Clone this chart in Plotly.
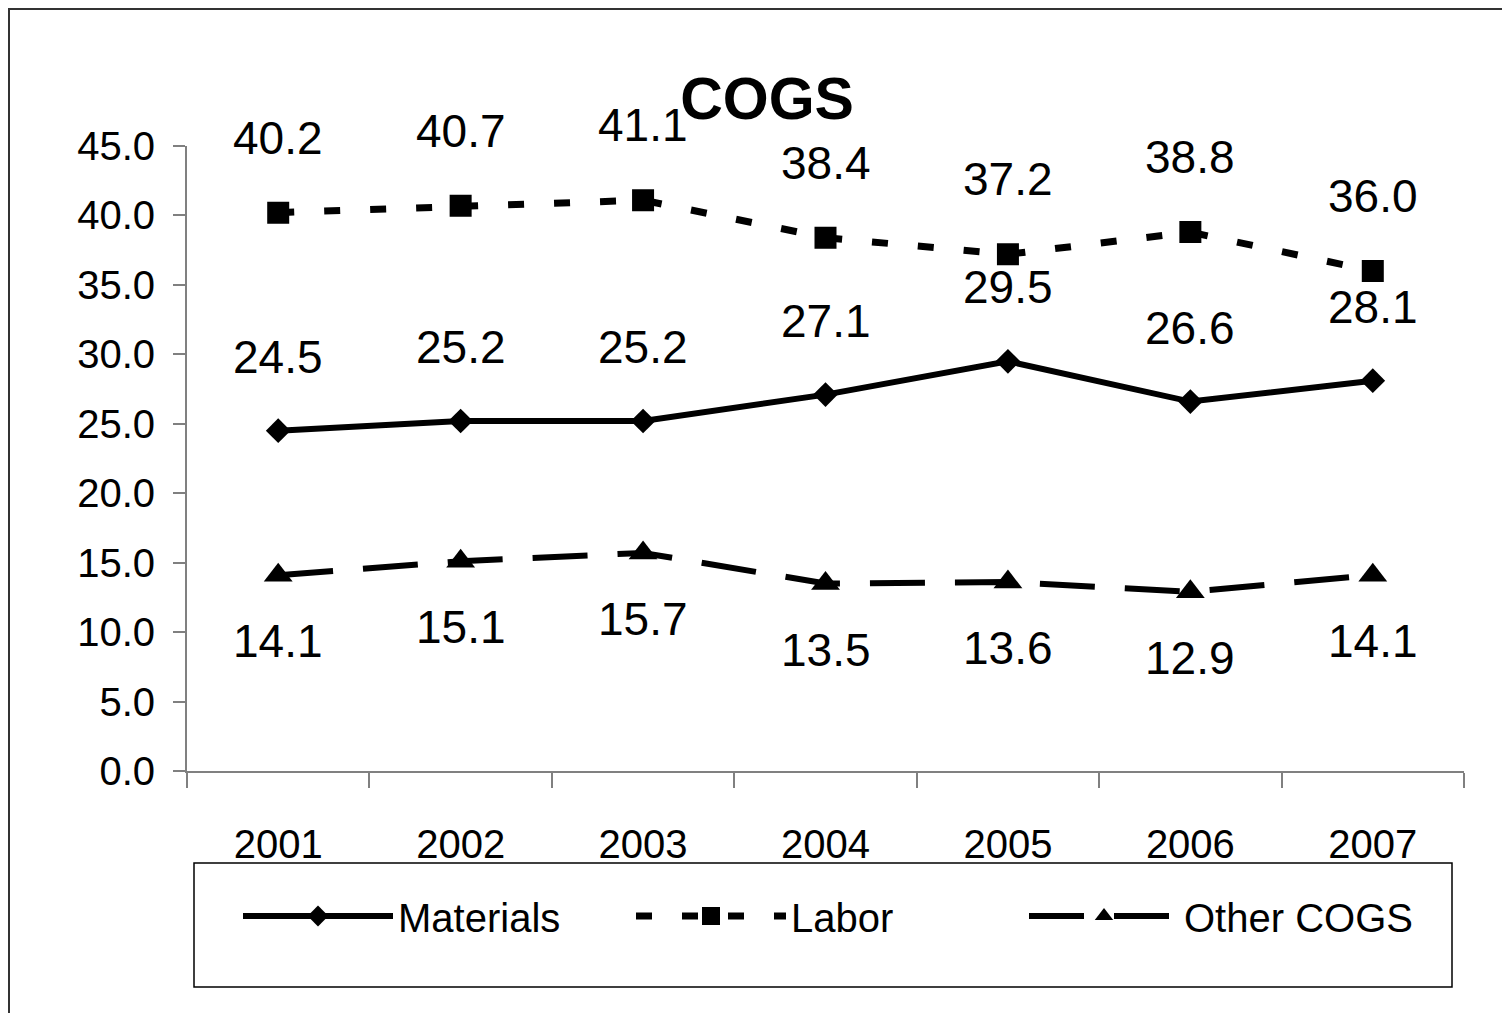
import plotly.graph_objects as go

years = ["2001", "2002", "2003", "2004", "2005", "2006", "2007"]
materials = [24.5, 25.2, 25.2, 27.1, 29.5, 26.6, 28.1]
labor = [40.2, 40.7, 41.1, 38.4, 37.2, 38.8, 36.0]
other_cogs = [14.1, 15.1, 15.7, 13.5, 13.6, 12.9, 14.1]

# page has an 8px body margin; figure is sized to fill the window from there
OFF = 8
W, H = 1510 - OFF, 1013 - OFF
L, R, T, B = 187 - OFF, 46, 146 - OFF, 242
PW, PH = W - L - R, H - T - B


def px_x(p):
    """page x pixel -> paper fraction"""
    return (p - OFF - L) / PW


def px_y(p):
    """page y pixel -> paper fraction"""
    return (H - B - (p - OFF)) / PH


FONT = "Liberation Sans, Arial, sans-serif"

fig = go.Figure()
fig.add_trace(go.Scatter(
    x=years, y=materials, name="Materials", mode="lines+markers",
    line=dict(color="black", width=6),
    marker=dict(symbol="diamond", size=19, color="black"),
))
fig.add_trace(go.Scatter(
    x=years, y=labor, name="Labor", mode="lines+markers",
    line=dict(color="black", width=7, dash="16px,30px"),
    marker=dict(symbol="square", size=20, color="black",
                line=dict(color="black", width=2)),
))
fig.add_trace(go.Scatter(
    x=years, y=other_cogs, name="Other COGS", mode="lines+markers",
    line=dict(color="black", width=6, dash="55px,30px"),
    marker=dict(symbol="triangle-up", size=25, color="black"),
))

annotations = []
for series, shift in ((materials, 74), (labor, 75), (other_cogs, -66)):
    for i, v in enumerate(series):
        annotations.append(dict(
            x=i, y=v, xref="x", yref="y", text=f"{v:.1f}", showarrow=False,
            yshift=shift, yanchor="middle", xanchor="center",
            font=dict(family=FONT, size=46, color="black"),
        ))

shapes = [
    # outer chart border
    dict(type="rect", xref="paper", yref="paper",
         x0=px_x(9), x1=px_x(1530), y0=px_y(1030), y1=px_y(9),
         line=dict(color="#333333", width=2), fillcolor="rgba(0,0,0,0)", layer="below"),
    # legend box
    dict(type="rect", xref="paper", yref="paper",
         x0=px_x(194), x1=px_x(1452), y0=px_y(987), y1=px_y(863),
         line=dict(color="black", width=1.5), fillcolor="rgba(0,0,0,0)", layer="below"),
]

fig.update_layout(
    width=W, height=H,
    margin=dict(l=L, r=R, t=T, b=B, autoexpand=False),
    paper_bgcolor="white", plot_bgcolor="white",
    font=dict(family=FONT, size=40, color="black"),
    title=dict(text="<b>COGS</b>", x=px_x(767), xref="paper", xanchor="center",
               y=1 - (98 - OFF) / H, yref="container", yanchor="middle",
               font=dict(family=FONT, size=59, color="black")),
    showlegend=True,
    legend=dict(orientation="h", x=px_x(238), xanchor="left",
                y=px_y(916), yanchor="middle", bgcolor="rgba(0,0,0,0)",
                borderwidth=0, font=dict(family=FONT, size=40, color="black"),
                entrywidth=228, entrywidthmode="pixels", itemwidth=150),
    annotations=annotations,
    shapes=shapes,
)

fig.update_xaxes(
    type="category", tickson="boundaries", ticks="outside", ticklen=15,
    tickcolor="#808080", tickwidth=2, showline=True, linecolor="#808080",
    linewidth=2, showgrid=False, zeroline=False, ticklabelstandoff=37,
    tickfont=dict(family=FONT, size=40, color="black"),
    range=[-0.5, 6.5],
)
fig.update_yaxes(
    range=[0, 45], dtick=5, tick0=0, tickformat=".1f", ticks="outside",
    ticklen=12, tickcolor="#808080", tickwidth=2, showline=True,
    linecolor="#808080", linewidth=2, showgrid=False, zeroline=False,
    ticklabelstandoff=10,
    tickfont=dict(family=FONT, size=40, color="black"),
)

fig.write_html("out.html")
